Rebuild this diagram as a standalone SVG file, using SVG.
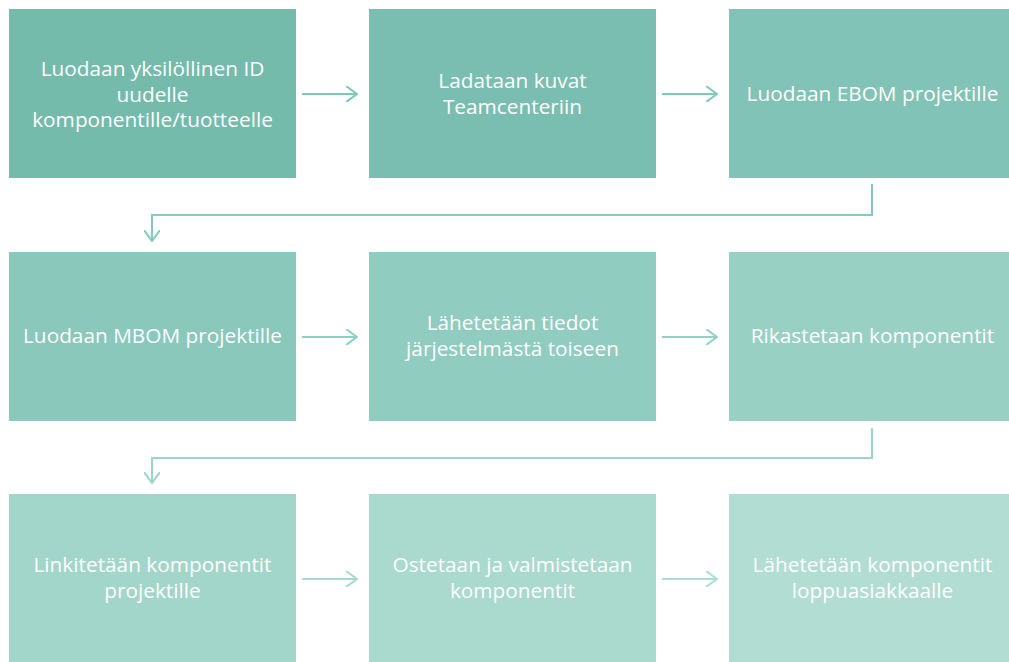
<svg xmlns="http://www.w3.org/2000/svg" width="1009" height="662" viewBox="0 0 1009 662">
<defs>
<style>
.t{font-family:"Open Sans","Noto Sans","Liberation Sans",sans-serif;font-size:20.8px;fill:#ffffff;text-anchor:middle}
.c{fill:none;stroke-width:2;stroke-linecap:butt}
</style>
<marker id="ah" viewBox="0 0 12 16" refX="11" refY="8" markerWidth="12" markerHeight="16" markerUnits="userSpaceOnUse" orient="auto">
<path d="M0,0 L11,8 L0,16" fill="none" stroke="context-stroke" stroke-width="2"/>
</marker>
</defs>
<rect width="1009" height="662" fill="#ffffff"/>
<g id="n1"><rect x="9" y="9" width="287" height="169" fill="#74BBAC"/>
<text class="t" x="152.5" y="76"><tspan x="152.5">Luodaan yksilöllinen ID</tspan><tspan x="152.5" dy="25.5">uudelle</tspan><tspan x="152.5" dy="25.5">komponentille/tuotteelle</tspan></text></g>
<g id="n2"><rect x="369" y="9" width="287" height="169" fill="#79BEB0"/>
<text class="t" x="512.5" y="88"><tspan x="512.5">Ladataan kuvat</tspan><tspan x="512.5" dy="25.5">Teamcenteriin</tspan></text></g>
<g id="n3"><rect x="729" y="9" width="287" height="169" fill="#81C3B6"/>
<text class="t" x="872.5" y="101">Luodaan EBOM projektille</text></g>
<g id="n4"><rect x="9" y="252" width="287" height="169" fill="#89C8BB"/>
<text class="t" x="152.5" y="343">Luodaan MBOM projektille</text></g>
<g id="n5"><rect x="369" y="252" width="287" height="169" fill="#91CCC0"/>
<text class="t" x="512.5" y="330"><tspan x="512.5">Lähetetään tiedot</tspan><tspan x="512.5" dy="25.5">järjestelmästä toiseen</tspan></text></g>
<g id="n6"><rect x="729" y="252" width="287" height="169" fill="#99D0C4"/>
<text class="t" x="872.5" y="343">Rikastetaan komponentit</text></g>
<g id="n7"><rect x="9" y="494" width="287" height="169" fill="#A3D6CA"/>
<text class="t" x="152.5" y="572"><tspan x="152.5">Linkitetään komponentit</tspan><tspan x="152.5" dy="25.5">projektille</tspan></text></g>
<g id="n8"><rect x="369" y="494" width="287" height="169" fill="#AAD9CE"/>
<text class="t" x="512.5" y="572"><tspan x="512.5">Ostetaan ja valmistetaan</tspan><tspan x="512.5" dy="25.5">komponentit</tspan></text></g>
<g id="n9"><rect x="729" y="494" width="287" height="169" fill="#B2DDD3"/>
<text class="t" x="872.5" y="572"><tspan x="872.5">Lähetetään komponentit</tspan><tspan x="872.5" dy="25.5">loppuasiakkaalle</tspan></text></g>
<g id="connectors">
<path class="c" stroke="#7CC7B6" d="M302,94 H357" marker-end="url(#ah)"/>
<path class="c" stroke="#80C9B9" d="M662,94 H717" marker-end="url(#ah)"/>
<path class="c" stroke="#85CBBB" d="M872,184 V215 H152 V241" marker-end="url(#ah)"/>
<path class="c" stroke="#8DCFC0" d="M302,337 H357" marker-end="url(#ah)"/>
<path class="c" stroke="#92D1C3" d="M662,337 H717" marker-end="url(#ah)"/>
<path class="c" stroke="#9BD5C8" d="M872,428 V458 H152 V483" marker-end="url(#ah)"/>
<path class="c" stroke="#A5DACE" d="M302,579 H357" marker-end="url(#ah)"/>
<path class="c" stroke="#ACDDD2" d="M662,579 H717" marker-end="url(#ah)"/>
</g>
</svg>
